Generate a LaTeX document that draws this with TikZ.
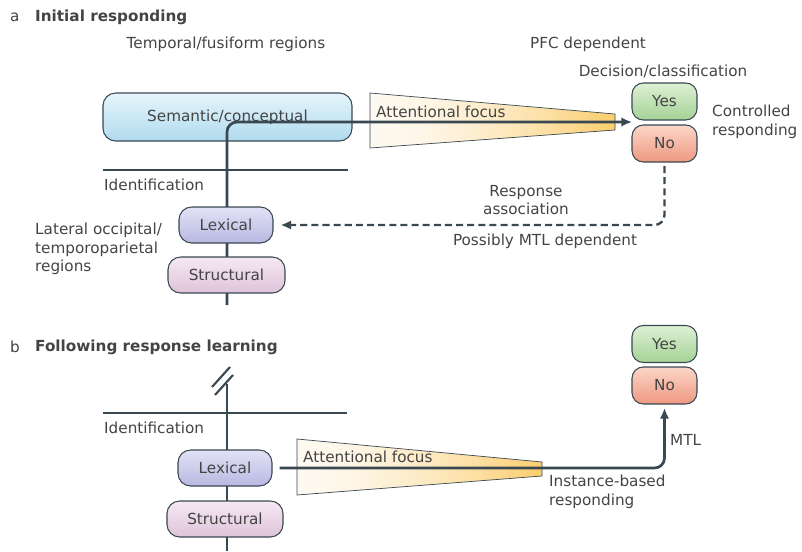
\documentclass[tikz,border=0pt]{standalone}
\usepackage{fontspec}
\setmainfont{DejaVu Sans}
\usepackage{tikz}
\usetikzlibrary{arrows.meta}
\definecolor{ink}{RGB}{58,72,82}
\definecolor{txt}{RGB}{68,68,68}
\definecolor{semtop}{RGB}{230,245,252}
\definecolor{sembot}{RGB}{176,219,238}
\definecolor{lextop}{RGB}{226,226,246}
\definecolor{lexbot}{RGB}{184,184,226}
\definecolor{strtop}{RGB}{246,232,242}
\definecolor{strbot}{RGB}{222,196,218}
\definecolor{yestop}{RGB}{222,240,212}
\definecolor{yesbot}{RGB}{164,210,150}
\definecolor{notop}{RGB}{252,214,200}
\definecolor{nobot}{RGB}{238,152,128}
\definecolor{focl}{RGB}{254,249,240}
\definecolor{focr}{RGB}{251,206,112}
\newcommand\lblfont{\fontsize{13}{16}\selectfont}
\tikzstyle{stage}=[draw=ink, line width=0.9pt, rounded corners=0.38cm, inner sep=0pt, minimum height=1.08cm, text=txt, font=\lblfont]
\tikzstyle{answer}=[stage, minimum width=1.95cm, minimum height=1.11cm, rounded corners=0.34cm]
\tikzstyle{flow}=[draw=ink, line width=2.3pt]
\tikzstyle{tip}=[-{Latex[length=9pt,width=8pt]}]
\tikzstyle{level}=[draw=ink, line width=2pt]
\tikzstyle{lbl}=[text=txt, inner sep=0pt, font=\lblfont]
\tikzstyle{focus}=[draw=ink, line width=0.6pt]

\begin{document}
\begin{tikzpicture}[x=0.03cm, y=-0.03cm]
\useasboundingbox (0,0) rectangle (802,551);
% panel a
\node[lbl, anchor=west] (taga) at (10,17) {a};
\node[lbl, anchor=west, font=\lblfont\bfseries] (titlea) at (35,17) {Initial responding};
\node[lbl] (temporal) at (226,44) {Temporal/fusiform regions};
\node[lbl] (pfc) at (588,44) {PFC dependent};
\node[lbl] (decision) at (663,71) {Decision/classification};
\node[stage, minimum width=7.47cm, minimum height=1.44cm, top color=semtop, bottom color=sembot] (sem) at (227.5,117) {Semantic/conceptual};
% attentional focus wedge, filled in strips
\begin{scope}
\clip (370,93) -- (615,114) -- (615,130) -- (370,148) -- cycle;
\foreach \i in {0,...,49} {
  \pgfmathsetmacro\p{100*(\i/49)^1.6}
  \fill[focr!\p!focl] (370+\i*4.9,90) rectangle +(5.6,62);
}
\end{scope}
\draw[focus] (370,93) -- (615,114) -- (615,130) -- (370,148) -- cycle;
\node[lbl, anchor=west] (attA) at (376,112) {Attentional focus};
\node[answer, top color=yestop, bottom color=yesbot] (yesA) at (664.5,101.5) {Yes};
\node[answer, top color=notop, bottom color=nobot] (noA) at (664.5,143.5) {No};
\node[lbl, anchor=west, align=left] (ctrl) at (712,122) {Controlled\\responding};
\draw[level] (103,170) -- (348,170);
\node[lbl, anchor=west] (idA) at (104,185) {Identification};
\coordinate (baseA) at (227,305);
\coordinate (inA) at (632,122);
\draw[flow, tip, rounded corners=0.3cm] (baseA) |- (inA);
\node[stage, minimum width=2.82cm, top color=lextop, bottom color=lexbot] (lexA) at (226,225) {Lexical};
\node[stage, minimum width=3.51cm, top color=strtop, bottom color=strbot] (strA) at (226.5,275) {Structural};
\node[lbl, anchor=west, align=left] (lateral) at (35,249) {Lateral occipital/\\temporoparietal\\regions};
\draw[flow, line width=2pt, dash pattern=on 6pt off 3.5pt, tip, rounded corners=0.3cm, shorten <=3pt, shorten >=6pt] (noA.south) |- (lexA.east);
\node[lbl, align=center] (resp) at (526,200) {Response\\association};
\node[lbl] (possibly) at (545,241) {Possibly MTL dependent};
% panel b
\node[lbl, anchor=west] (tagb) at (10,347) {b};
\node[lbl, anchor=west, font=\lblfont\bfseries] (titleb) at (35,347) {Following response learning};
\node[answer, top color=yestop, bottom color=yesbot] (yesB) at (664.5,344) {Yes};
\node[answer, top color=notop, bottom color=nobot] (noB) at (664.5,385.5) {No};
\draw[level] (103,413) -- (347,413);
\node[lbl, anchor=west] (idB) at (104,428) {Identification};
\draw[flow] (227,384) -- (227,551);
\draw[flow, line width=1.8pt] (212,387) -- (230,367);
\draw[flow, line width=1.8pt] (215,395) -- (233,375);
\begin{scope}
\clip (297,439) -- (542,462) -- (542,476) -- (297,495) -- cycle;
\foreach \i in {0,...,49} {
  \pgfmathsetmacro\p{100*(\i/49)^1.6}
  \fill[focr!\p!focl] (297+\i*4.9,436) rectangle +(5.6,62);
}
\end{scope}
\draw[focus] (297,439) -- (542,462) -- (542,476) -- (297,495) -- cycle;
\node[lbl, anchor=west] (attB) at (303,457) {Attentional focus};
\node[stage, minimum width=2.82cm, top color=lextop, bottom color=lexbot] (lexB) at (225,468) {Lexical};
\node[stage, minimum width=3.48cm, top color=strtop, bottom color=strbot] (strB) at (225,519) {Structural};
\draw[flow, tip, rounded corners=0.3cm, shorten <=6pt, shorten >=3pt] (lexB.east) -| (noB.south);
\node[lbl, anchor=west] (mtl) at (670,440) {MTL};
\node[lbl, anchor=west, align=left] (instance) at (549,492) {Instance-based\\responding};
\end{tikzpicture}
\end{document}
